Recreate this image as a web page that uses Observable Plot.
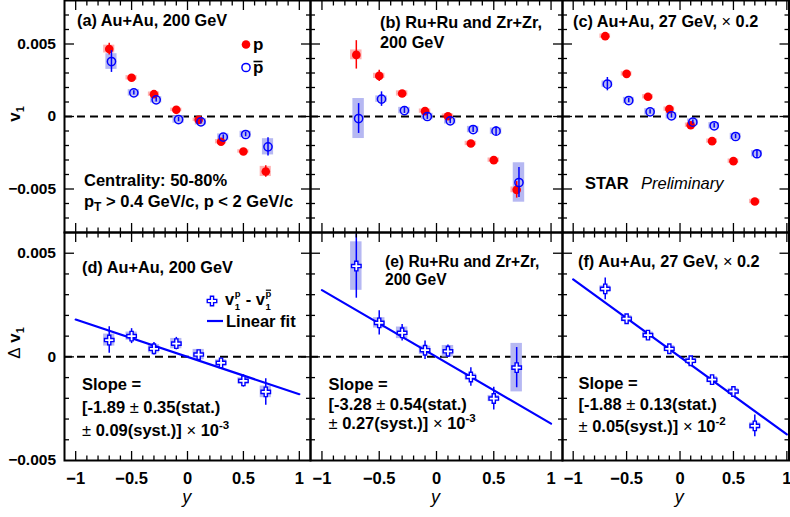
<!DOCTYPE html>
<html><head><meta charset="utf-8">
<script src="https://cdn.jsdelivr.net/npm/d3@7"></script>
<script src="https://cdn.jsdelivr.net/npm/@observablehq/plot@0.6"></script>
<style>
body{margin:0;background:#fff;}
#c{position:relative;width:790px;height:517px;overflow:hidden;font-family:"Liberation Sans",Arial,Helvetica,sans-serif;}
#c svg text{white-space:pre;}
</style>
</head><body><div id="c"></div>
<script>
// ---------------- data (v1 values in units of 10^-3) ----------------
const rapidity = [-0.7, -0.5, -0.3, -0.1, 0.1, 0.3, 0.5, 0.7];
const yTickValues = [-5, 0, 5];
const yTickLabels = ["\u22120.005", "0", "0.005"];
const xTickValues = [-1, -0.5, 0, 0.5, 1];
const xTickLabels = ["\u22121", "\u22120.5", "0", "0.5", "1"];

// (a) Au+Au 200 GeV
const aP        = [4.65, 2.67, 1.54, 0.46, -0.23, -1.74, -2.41, -3.79];
const aPStat    = [0.40, 0.15, 0.12, 0.12, 0.12, 0.12, 0.12, 0.40];
const aPSys     = [0.27, 0.15, 0.15, 0.12, 0.12, 0.15, 0.12, 0.35];
const aPbar     = [3.79, 1.63, 1.15, -0.21, -0.37, -1.42, -1.24, -2.09];
const aPbarStat = [0.75, 0.15, 0.15, 0.15, 0.15, 0.15, 0.15, 0.63];
const aPbarSys  = [0.54, 0.22, 0.22, 0.25, 0.22, 0.22, 0.22, 0.56];
// (b) Ru+Ru and Zr+Zr 200 GeV
const bP        = [4.25, 2.80, 1.59, 0.37, 0.02, -1.86, -3.01, -5.06];
const bPStat    = [0.98, 0.39, 0.15, 0.15, 0.12, 0.15, 0.15, 0.57];
const bPSys     = [0.34, 0.18, 0.18, 0.15, 0.15, 0.15, 0.15, 0.20];
const bPbar     = [-0.14, 1.20, 0.41, 0.00, -0.30, -0.90, -1.01, -4.55];
const bPbarStat = [1.03, 0.50, 0.20, 0.20, 0.20, 0.20, 0.30, 1.03];
const bPbarSys  = [1.38, 0.22, 0.22, 0.22, 0.22, 0.22, 0.22, 1.36];
// (c) Au+Au 27 GeV x0.2
const cP        = [5.54, 2.94, 1.36, 0.51, -0.60, -1.70, -3.08, -5.86];
const cPStat    = [0.12, 0.12, 0.12, 0.12, 0.12, 0.12, 0.12, 0.12];
const cPSys     = [0.15, 0.15, 0.15, 0.15, 0.15, 0.15, 0.15, 0.15];
const cPbar     = [2.23, 1.10, 0.32, 0.05, -0.39, -0.64, -1.38, -2.57];
const cPbarStat = [0.46, 0.15, 0.15, 0.15, 0.15, 0.15, 0.15, 0.30];
const cPbarSys  = [0.22, 0.22, 0.22, 0.22, 0.22, 0.22, 0.22, 0.22];
// (d) delta v1 Au+Au 200
const dV    = [0.81, 1.00, 0.39, 0.64, 0.11, -0.29, -1.16, -1.69];
const dStat = [0.64, 0.36, 0.30, 0.30, 0.20, 0.20, 0.30, 0.64];
const dSys  = [0.29, 0.20, 0.20, 0.25, 0.25, 0.15, 0.15, 0.28];
// (e) delta v1 Ru+Ru/Zr+Zr 200
const eV    = [4.38, 1.64, 1.16, 0.32, 0.27, -0.97, -2.01, -0.52];
const eStat = [1.55, 0.58, 0.40, 0.45, 0.30, 0.45, 0.55, 0.97];
const eSys  = [1.17, 0.25, 0.28, 0.20, 0.28, 0.15, 0.15, 1.17];
// (f) delta v1 Au+Au 27 x0.2
const fV    = [3.28, 1.84, 1.05, 0.39, -0.19, -1.10, -1.67, -3.33];
const fStat = [0.52, 0.20, 0.20, 0.20, 0.20, 0.20, 0.20, 0.52];
const fSys  = [0.15, 0.15, 0.15, 0.15, 0.15, 0.15, 0.15, 0.15];
// linear fits, evaluated at the ends of the rapidity range
const fitX = [-1, 1];
const dFit = [1.80, -1.80];
const eFit = [3.22, -3.22];
const fFit = [3.74, -3.74];

// ---------------- style ----------------
const RED = "#ff0000", BLUE = "#0000ff";
const RED_SYS = "rgba(255,0,0,0.3)", BLUE_SYS = "#b6b8f2";
const PBAR_SHIFT = 0.02, BOX_HALF = 0.05;
const FONT = "Liberation Sans, Arial, Helvetica, sans-serif";

function rowsOf(vals, stat, sys, shift = 0) {
  return rapidity.map((y, i) => ({
    y: y + shift, v: vals[i],
    lo: vals[i] - stat[i], hi: vals[i] + stat[i],
    slo: vals[i] - sys[i], shi: vals[i] + sys[i]
  }));
}

const cols = [
  {L: 63.5, R: 309.5, dom: [-1.1, 1.1]},
  {L: 309.5, R: 561.5, dom: [-1.1, 1.1]},
  {L: 561.5, R: 788, dom: [-1.1, 1.02]}
];
const rowsGeo = [
  {T: 0, B: 232, dom: [-8, 8]},
  {T: 232, B: 460, dom: [-5, 6]}
];

function tickMarks(xdom, ydom) {
  const inside = (v, d) => v > d[0] + 1e-9 && v < d[1] - 1e-9;
  const xMinor = d3.range(-11, 12).map(i => i / 10)
    .filter(v => Math.abs(v * 2 - Math.round(v * 2)) > 1e-6 && inside(v, xdom));
  const xMajor = xTickValues.filter(v => inside(v, xdom));
  const yMinor = d3.range(Math.ceil(ydom[0]), Math.floor(ydom[1]) + 1).filter(v => v % 5 !== 0 && inside(v, ydom));
  const yMajor = yTickValues.filter(v => inside(v, ydom));
  const o = {tickFormat: () => "", label: null, strokeWidth: 1.3};
  return [
    Plot.axisY({anchor: "left", ticks: yMajor, tickSize: 10, dx: 10, ...o}),
    Plot.axisY({anchor: "left", ticks: yMinor, tickSize: 5, dx: 5, ...o}),
    Plot.axisY({anchor: "right", ticks: yMajor, tickSize: 10, dx: -10, ...o}),
    Plot.axisY({anchor: "right", ticks: yMinor, tickSize: 5, dx: -5, ...o}),
    Plot.axisX({anchor: "bottom", ticks: xMajor, tickSize: 9, dy: -9, ...o}),
    Plot.axisX({anchor: "bottom", ticks: xMinor, tickSize: 4.5, dy: -4.5, ...o}),
    Plot.axisX({anchor: "top", ticks: xMajor, tickSize: 9, dy: 9, ...o}),
    Plot.axisX({anchor: "top", ticks: xMinor, tickSize: 4.5, dy: 4.5, ...o})
  ];
}

function topMarks(p, pb) {
  return [
    Plot.ruleY([0], {strokeDasharray: "8,5", strokeWidth: 2}),
    Plot.rect(p, {x1: d => d.y - BOX_HALF, x2: d => d.y + BOX_HALF, y1: "slo", y2: "shi", fill: RED_SYS}),
    Plot.rect(pb, {x1: d => d.y - BOX_HALF, x2: d => d.y + BOX_HALF, y1: "slo", y2: "shi", fill: BLUE_SYS}),
    Plot.ruleX(p, {x: "y", y1: "lo", y2: "hi", stroke: RED, strokeWidth: 1.5}),
    Plot.dot(p, {x: "y", y: "v", r: 4.3, fill: RED}),
    Plot.ruleX(pb, {x: "y", y1: "lo", y2: "hi", stroke: BLUE, strokeWidth: 1.5}),
    Plot.dot(pb, {x: "y", y: "v", r: 4.1, stroke: BLUE, strokeWidth: 1.5, fill: "none"})
  ];
}

function bottomMarks(dv, fit) {
  const fitRows = fitX.map((x, i) => ({x, v: fit[i]}));
  return [
    Plot.ruleY([0], {strokeDasharray: "8,5", strokeWidth: 2}),
    Plot.rect(dv, {x1: d => d.y - BOX_HALF, x2: d => d.y + BOX_HALF, y1: "slo", y2: "shi", fill: BLUE_SYS}),
    Plot.line(fitRows, {x: "x", y: "v", stroke: BLUE, strokeWidth: 2.2}),
    Plot.ruleX(dv, {x: "y", y1: "lo", y2: "hi", stroke: BLUE, strokeWidth: 1.5}),
    Plot.dot(dv, {x: "y", y: "v", symbol: "cross", r: 4, stroke: BLUE, strokeWidth: 1.4, fill: "white"})
  ];
}

const container = document.getElementById("c");

function panel(ci, ri, dataMarks) {
  const c = cols[ci], r = rowsGeo[ri];
  const pad = 14;
  const showY = ci === 0, showX = ri === 1;
  const mL = showY ? 70 : pad, mB = showX ? 60 : pad;
  const marks = [...dataMarks, ...tickMarks(c.dom, r.dom)];
  if (showY) marks.push(Plot.axisY({
    anchor: "left", ticks: yTickValues, tickSize: 0, tickPadding: 8.5,
    tickFormat: d => yTickLabels[yTickValues.indexOf(d)], fontSize: 15.5, fontWeight: "bold", label: null
  }));
  if (showX) marks.push(Plot.axisX({
    anchor: "bottom", ticks: xTickValues.filter(v => v <= c.dom[1]), tickSize: 0, tickPadding: 11.5,
    tickFormat: d => xTickLabels[xTickValues.indexOf(d)], fontSize: 16.5, fontWeight: "bold", label: null
  }));
  marks.push(Plot.frame({stroke: "black", strokeWidth: 2}));
  const plot = Plot.plot({
    width: c.R - c.L + mL + pad, height: r.B - r.T + pad + mB,
    marginLeft: mL, marginRight: pad, marginTop: pad, marginBottom: mB,
    x: {domain: c.dom}, y: {domain: r.dom},
    style: {background: "transparent", overflow: "visible", fontFamily: FONT, color: "black", maxWidth: "none"},
    marks
  });
  plot.style.position = "absolute";
  plot.style.left = (c.L - mL) + "px";
  plot.style.top = (r.T - pad) + "px";
  container.appendChild(plot);
}

panel(0, 0, topMarks(rowsOf(aP, aPStat, aPSys), rowsOf(aPbar, aPbarStat, aPbarSys, PBAR_SHIFT)));
panel(1, 0, topMarks(rowsOf(bP, bPStat, bPSys), rowsOf(bPbar, bPbarStat, bPbarSys, PBAR_SHIFT)));
panel(2, 0, topMarks(rowsOf(cP, cPStat, cPSys), rowsOf(cPbar, cPbarStat, cPbarSys, PBAR_SHIFT)));
panel(0, 1, bottomMarks(rowsOf(dV, dStat, dSys), dFit));
panel(1, 1, bottomMarks(rowsOf(eV, eStat, eSys), eFit));
panel(2, 1, bottomMarks(rowsOf(fV, fStat, fSys), fFit));

// ---------------- annotations overlay ----------------
const ov = d3.select(container).append("svg")
  .attr("width", 790).attr("height", 517)
  .style("position", "absolute").style("left", "0px").style("top", "0px")
  .style("font-family", FONT).style("overflow", "visible");

function rich(x, y, parts, size = 16.3, extra = {}) {
  const t = ov.append("text").attr("x", x).attr("y", y)
    .attr("font-size", size).attr("font-weight", "bold").attr("fill", "black");
  for (const [k, v] of Object.entries(extra)) t.attr(k, v);
  for (const p of parts) {
    if (typeof p === "string") t.append("tspan").text(p);
    else {
      const s = t.append("tspan").text(p.t);
      for (const k of ["x", "dx", "dy", "font-size", "font-weight", "font-style"]) if (p[k] != null) s.attr(k, p[k]);
    }
  }
  return t;
}
const thin = s => ({t: s, "font-weight": "normal"});

// panel titles
rich(77, 26, ["(a) Au+Au, 200 GeV"]);
rich(380, 28, ["(b) Ru+Ru and Zr+Zr,", {t: "200 GeV", x: 380, dy: 19.5}]);
rich(573, 26.5, ["(c) Au+Au, 27 GeV, ", thin("\u00d7"), " 0.2"]);
rich(82, 273, ["(d) Au+Au, 200 GeV"]);
rich(385, 267, ["(e) Ru+Ru and Zr+Zr,", {t: "200 GeV", x: 385, dy: 17.5}], 15.6);
rich(578, 266.5, ["(f) Au+Au, 27 GeV, ", thin("\u00d7"), " 0.2"]);

// legend (a)
ov.append("circle").attr("cx", 246).attr("cy", 44.5).attr("r", 4.3).attr("fill", RED);
ov.append("circle").attr("cx", 246).attr("cy", 67.5).attr("r", 4.1).attr("fill", "none").attr("stroke", BLUE).attr("stroke-width", 1.5);
rich(253, 50, ["p"], 17);
rich(253, 73, ["p"], 17);
ov.append("line").attr("x1", 253.5).attr("x2", 262.5).attr("y1", 61.5).attr("y2", 61.5).attr("stroke", "black").attr("stroke-width", 1.6);

// cuts
rich(84, 186, ["Centrality: 50-80%"], 16.5);
rich(84, 207, ["p", {t: "T", "font-size": 12, dy: 4}, {t: " > 0.4 GeV/c, p < 2 GeV/c", dy: -4}], 16.5);

// STAR Preliminary
rich(585, 188.5, ["STAR"], 16.5);
rich(641, 188.5, ["Preliminary"], 16.5, {"font-weight": "normal", "font-style": "italic"});

// legend (d)
ov.append("path").attr("d", d3.symbol(d3.symbolCross, Math.PI * 16)()).attr("transform", "translate(212,301)")
  .attr("fill", "white").attr("stroke", BLUE).attr("stroke-width", 1.4);
ov.append("line").attr("x1", 207).attr("x2", 223).attr("y1", 321).attr("y2", 321).attr("stroke", BLUE).attr("stroke-width", 2.2);
const leg = rich(225, 305, [
  "v", {t: "p", "font-size": 9.5, dx: 0.6, dy: -8}, {t: "1", "font-size": 9.5, dx: -5.8, dy: 12.5},
  {t: " - v", dx: 1, dy: -4.5}, {t: "p", "font-size": 9.5, dx: 0.6, dy: -8}, {t: "1", "font-size": 9.5, dx: -5.8, dy: 12.5}
], 16.5);
{
  let x0 = 265, w = 6, yTop = 289.5;
  try {
    const ext = leg.node().getExtentOfChar(7);
    x0 = ext.x + 0.3; w = ext.width - 0.6; yTop = ext.y + 2.2;
  } catch (e) {}
  ov.append("line").attr("x1", x0).attr("x2", x0 + w).attr("y1", yTop).attr("y2", yTop).attr("stroke", "black").attr("stroke-width", 1.2);
}
rich(226, 326.5, ["Linear fit"], 16.5);

// slopes
function slope(x, y0, dy, a, b, c, e) {
  rich(x, y0, ["Slope ="], 16.5);
  rich(x, y0 + dy, [`[${a} `, thin("\u00b1"), ` ${b}(stat.)`], 16.5);
  rich(x, y0 + 2 * dy, [thin("\u00b1"), ` ${c}(syst.)] `, thin("\u00d7"), " 10", {t: e, "font-size": 11.5, dy: -7}], 16.5);
}
slope(82, 390, 23, "-1.89", "0.35", "0.09", "-3");
slope(328.5, 390, 19.5, "-3.28", "0.54", "0.27", "-3");
slope(578.5, 388.5, 21.5, "-1.88", "0.13", "0.05", "-2");

// axis titles
rich(20, 114, ["v", {t: "1", "font-size": 11, dy: 4}], 17, {"text-anchor": "middle", transform: "rotate(-90,20,114)"});
rich(20, 343, [thin("\u0394"), " v", {t: "1", "font-size": 11, dy: 4}], 17, {"text-anchor": "middle", transform: "rotate(-90,20,343)"});
for (const xc of [186.7, 435.5, 679.3]) {
  rich(xc, 503, ["y"], 18, {"text-anchor": "middle", "font-weight": "normal", "font-style": "italic"});
}
</script>
</body></html>
